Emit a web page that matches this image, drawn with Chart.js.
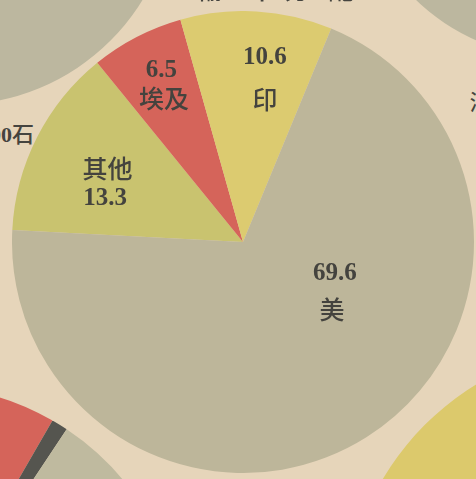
<!DOCTYPE html>
<html>
<head>
<meta charset="utf-8">
<script src="https://cdn.jsdelivr.net/npm/chart.js@4.4.0/dist/chart.umd.min.js"></script>
<style>
  html, body { margin: 0; padding: 0; background: #e6d5ba; }
  #hoja { position: relative; width: 476px; height: 479px; overflow: hidden; background: #e6d5ba; }
  .pastel { position: absolute; }
  .texto { position: absolute; color: #45443f; white-space: nowrap; font-family: "Noto Sans CJK SC", sans-serif; font-weight: 500; }
</style>
</head>
<body>
<div id="hoja">
  <!-- pasteles vecinos (recortados por el borde) -->
  <div class="pastel" style="left:-265px; top:-335px; width:440px; height:440px;"><canvas id="vecinoSupIzq" width="440" height="440"></canvas></div>
  <div class="pastel" style="left:352px; top:-358px; width:416px; height:416px;"><canvas id="vecinoSupDer" width="416" height="416"></canvas></div>
  <div class="pastel" style="left:-345px; top:385px; width:530px; height:530px;"><canvas id="vecinoInfIzq" width="530" height="530"></canvas></div>
  <div class="pastel" style="left:344px; top:344px; width:552px; height:552px;"><canvas id="vecinoInfDer" width="552" height="552"></canvas></div>

  <!-- textos sueltos de los gráficos vecinos -->
  <div class="texto" style="right:442px; top:116px; font-size:22px; font-family:'Liberation Serif','Noto Sans CJK SC',serif; font-weight:bold;">00<span style="font-family:'Noto Sans CJK SC'; font-weight:500;">石</span></div>
  <div class="texto" style="left:470px; top:84px; font-size:22px;">滿</div>
  <div class="texto" style="left:196px; top:-31px; font-size:26px; letter-spacing:18px;">輸出分配</div>

  <!-- gráfico principal -->
  <div class="pastel" style="left:12px; top:11px; width:462px; height:462px;"><canvas id="graficoPrincipal" width="462" height="462"></canvas></div>
</div>

<script>
// Datos del gráfico principal (porcentajes)
const categorias = ['其他', '埃及', '印', '美'];
const valores    = [13.3, 6.5, 10.6, 69.6];
const colores    = ['#c9c36f', '#d5645a', '#dccb70', '#bdb69a'];
const giroInicio = -87;

// Posición de cada texto relativa al centro, en fracciones del radio
const posValor  = [[-0.597, -0.195], [-0.353, -0.751], [0.095, -0.807], [0.398, 0.128]];
const posNombre = [[-0.587, -0.323], [-0.342, -0.626], [0.095, -0.623], [0.385, 0.290]];

// Pasteles vecinos que asoman en los bordes
const vecinoSupIzq = [100];
const vecinoSupDer = [100];
const vecinoInfIzq = [80, 1, 19];
const vecinoInfDer = [100];

/**
 * Dibuja los números y nombres sobre cada porción
 */
const etiquetasPlugin = {
  id: 'etiquetas',
  afterDatasetsDraw(chart) {
    const ctx = chart.ctx;
    const arcos = chart.getDatasetMeta(0).data;
    ctx.save();
    ctx.fillStyle = '#44433e';
    ctx.textAlign = 'center';
    arcos.forEach((arco, i) => {
      const r = arco.outerRadius;
      // valor
      ctx.font = 'bold 25px "Liberation Serif", serif';
      ctx.textBaseline = 'alphabetic';
      ctx.fillText(valores[i].toFixed(1), arco.x + posValor[i][0] * r, arco.y + posValor[i][1] * r + 8);
      // nombre
      ctx.font = '500 25px "Noto Sans CJK SC", sans-serif';
      ctx.textBaseline = 'middle';
      ctx.fillText(categorias[i], arco.x + posNombre[i][0] * r, arco.y + posNombre[i][1] * r + 1);
    });
    ctx.restore();
  }
};

function crearPastel(id, datos, fondo, giro, plugins) {
  const ctx = document.getElementById(id);
  if (!ctx) return;
  new Chart(ctx, {
    type: 'pie',
    data: {
      labels: datos.map((_, i) => String(i)),
      datasets: [{
        data: datos,
        backgroundColor: fondo,
        borderWidth: 0,
      }]
    },
    options: {
      responsive: false,
      animation: false,
      rotation: giro,
      layout: { padding: 0 },
      plugins: { legend: { display: false }, tooltip: { enabled: false } }
    },
    plugins: plugins || []
  });
}

crearPastel('vecinoSupIzq', vecinoSupIzq, ['#bcb79f'], 0);
crearPastel('vecinoSupDer', vecinoSupDer, ['#bcb79f'], 0);
crearPastel('vecinoInfIzq', vecinoInfIzq, ['#d5645a', '#55554f', '#bfba9f'], -258);
crearPastel('vecinoInfDer', vecinoInfDer, ['#dcc96c'], 0);
crearPastel('graficoPrincipal', valores, colores, giroInicio, [etiquetasPlugin]);
</script>
</body>
</html>
